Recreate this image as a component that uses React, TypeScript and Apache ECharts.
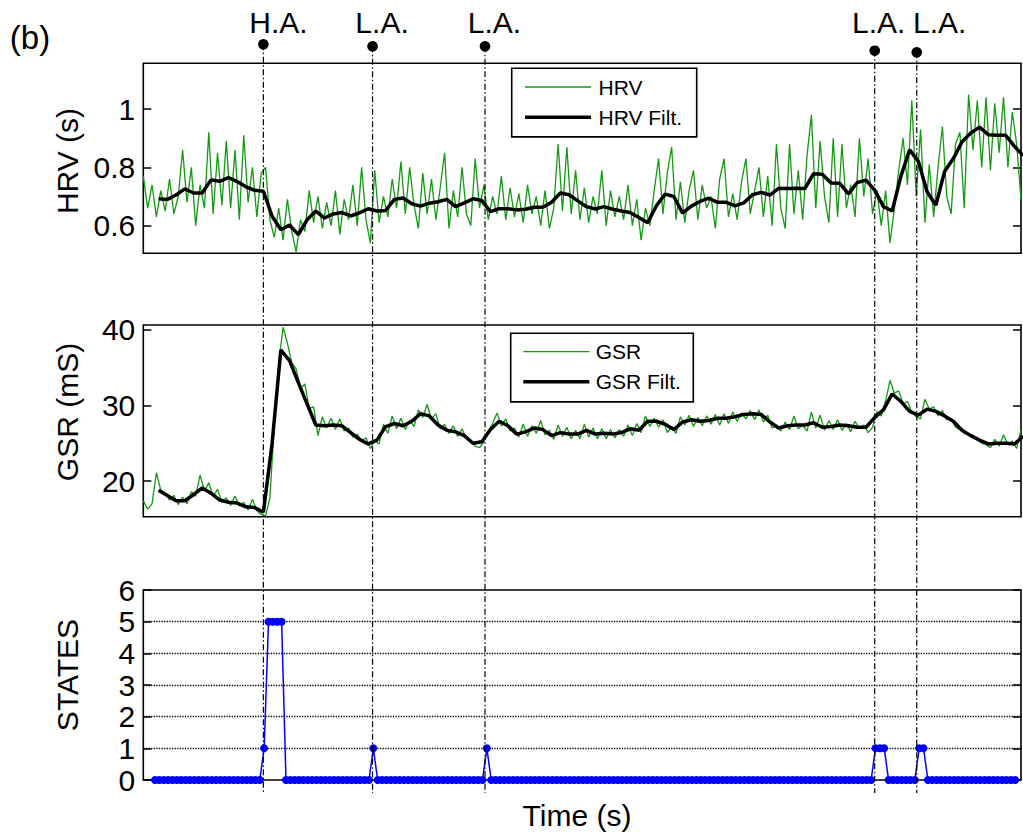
import { useEffect, useRef } from "react";
import * as echarts from "echarts";

// ---------------- data ----------------
const TIME_MAX = 804; // seconds shown on the shared time axis
const RAW_T0 = 0;
const RAW_DT = 4;
const FILT_T0 = 14;
const FILT_DT = 8;
const STATE_T0 = 10.7;
const STATE_DT = 4;

const hrvRaw = [
  0.77, 0.66, 0.74, 0.63, 0.72, 0.65, 0.76, 0.64, 0.70, 0.86,
  0.68, 0.80, 0.60, 0.74, 0.66, 0.92, 0.64, 0.85, 0.67, 0.89,
  0.66, 0.86, 0.62, 0.91, 0.68, 0.80, 0.63, 0.78, 0.80, 0.62,
  0.56, 0.66, 0.55, 0.69, 0.58, 0.51, 0.62, 0.58, 0.72, 0.61,
  0.70, 0.59, 0.68, 0.60, 0.72, 0.57, 0.69, 0.62, 0.74, 0.60,
  0.80, 0.62, 0.54, 0.79, 0.61, 0.70, 0.63, 0.76, 0.66, 0.82,
  0.64, 0.80, 0.67, 0.59, 0.78, 0.64, 0.76, 0.62, 0.73, 0.85,
  0.59, 0.72, 0.63, 0.80, 0.64, 0.60, 0.83, 0.66, 0.74, 0.62,
  0.70, 0.64, 0.77, 0.62, 0.73, 0.63, 0.71, 0.61, 0.74, 0.64,
  0.70, 0.60, 0.72, 0.59, 0.66, 0.88, 0.65, 0.87, 0.64, 0.79,
  0.62, 0.73, 0.61, 0.70, 0.64, 0.79, 0.60, 0.72, 0.63, 0.70,
  0.62, 0.74, 0.60, 0.69, 0.55, 0.66, 0.60, 0.72, 0.83, 0.64,
  0.78, 0.87, 0.62, 0.75, 0.61, 0.72, 0.79, 0.62, 0.74, 0.66,
  0.70, 0.59, 0.76, 0.83, 0.63, 0.71, 0.62, 0.75, 0.83, 0.64,
  0.72, 0.80, 0.63, 0.77, 0.60, 0.88, 0.66, 0.59, 0.88, 0.64,
  0.79, 0.62, 0.84, 0.98, 0.66, 0.89, 0.70, 0.61, 0.90, 0.63,
  0.88, 0.66, 0.74, 0.63, 0.90, 0.70, 0.83, 0.64, 0.72, 0.60,
  0.72, 0.54, 0.66, 0.79, 0.90, 0.74, 1.03, 0.70, 0.93, 0.61,
  0.81, 0.63, 0.80, 0.94, 0.70, 0.64, 0.88, 0.92, 0.66, 1.05,
  0.86, 1.03, 0.80, 1.04, 0.79, 1.02, 0.85, 1.04, 0.80, 0.99,
  0.88, 0.69,
];

const hrvFilt = [
  0.692, 0.690, 0.705, 0.726, 0.712, 0.712, 0.757, 0.752, 0.765, 0.751,
  0.733, 0.721, 0.718, 0.632, 0.586, 0.602, 0.569, 0.620, 0.650, 0.626,
  0.640, 0.645, 0.633, 0.644, 0.658, 0.650, 0.652, 0.690, 0.695, 0.675,
  0.667, 0.677, 0.682, 0.690, 0.665, 0.678, 0.692, 0.686, 0.648, 0.658,
  0.658, 0.654, 0.656, 0.663, 0.663, 0.680, 0.712, 0.706, 0.685, 0.665,
  0.657, 0.665, 0.656, 0.650, 0.645, 0.628, 0.610, 0.668, 0.708, 0.700,
  0.643, 0.667, 0.683, 0.694, 0.680, 0.680, 0.668, 0.678, 0.706, 0.714,
  0.705, 0.728, 0.727, 0.728, 0.727, 0.778, 0.776, 0.746, 0.745, 0.709,
  0.748, 0.756, 0.722, 0.665, 0.650, 0.770, 0.860, 0.820, 0.716, 0.670,
  0.786, 0.830, 0.888, 0.918, 0.938, 0.912, 0.910, 0.910, 0.872, 0.840,
];

const gsrRaw = [
  17.4, 16.3, 17.0, 21.1, 18.8, 18.4, 17.5, 18.1, 16.9, 17.9,
  17.0, 18.6, 18.0, 20.8, 18.7, 19.8, 18.0, 18.9, 17.2, 17.8,
  16.8, 18.0, 16.7, 17.2, 16.2, 17.6, 16.1, 15.6, 15.4, 17.8,
  27.5, 35.5, 40.3, 38.2, 35.6, 34.8, 32.3, 32.8, 29.6, 29.8,
  26.0, 28.5, 27.0, 28.3, 26.8, 28.2, 26.6, 27.0, 25.8, 26.2,
  25.3, 25.7, 24.3, 25.3, 24.9, 27.5, 26.3, 28.6, 26.9, 28.3,
  26.8, 28.0, 27.2, 29.4, 28.4, 30.1, 28.2, 28.9, 26.9, 27.5,
  26.3, 27.3, 25.9, 26.9, 25.6, 25.4, 24.6, 24.4, 25.2, 26.6,
  27.6, 29.0, 27.3, 28.2, 26.6, 27.0, 25.8, 27.5, 25.9, 27.3,
  26.3, 28.0, 26.1, 26.7, 25.5, 27.4, 25.9, 27.1, 25.6, 26.7,
  25.6, 27.5, 25.8, 27.0, 25.6, 26.9, 25.6, 26.8, 25.7, 26.8,
  25.9, 27.4, 26.0, 27.6, 26.4, 28.6, 27.2, 28.3, 27.1, 28.1,
  26.4, 27.2, 26.3, 28.5, 27.4, 28.7, 27.2, 28.4, 27.3, 28.6,
  27.5, 28.8, 27.4, 28.9, 27.6, 29.1, 27.9, 29.0, 28.2, 29.3,
  28.1, 29.4, 27.8, 28.7, 27.0, 27.3, 26.6, 27.8, 26.8, 28.6,
  26.9, 27.4, 26.6, 29.1, 27.0, 28.7, 26.7, 28.0, 26.8, 28.1,
  26.7, 27.6, 26.5, 27.9, 26.9, 27.4, 26.4, 27.1, 29.2, 28.6,
  30.6, 33.3, 31.6, 31.9, 30.2, 30.5, 29.1, 28.5, 28.2, 30.8,
  29.5, 29.8, 28.6, 29.3, 28.1, 28.2, 27.1, 26.8, 26.3, 26.1,
  25.7, 25.5, 25.0, 24.8, 24.4, 25.5, 24.6, 26.1, 24.8, 25.3,
  24.3, 26.8,
];

const gsrFilt = [
  18.8, 18.1, 17.4, 17.4, 18.2, 19.1, 18.4, 17.5, 17.2, 17.1,
  16.6, 16.5, 15.9, 25.0, 37.3, 35.9, 33.0, 30.2, 27.4, 27.3,
  27.4, 27.3, 26.4, 25.5, 24.9, 25.4, 27.2, 27.6, 27.3, 27.9,
  28.9, 28.6, 27.4, 26.7, 26.5, 26.0, 25.0, 25.2, 26.8, 27.9,
  27.3, 26.2, 26.5, 27.0, 26.8, 26.0, 26.4, 26.2, 26.2, 26.7,
  26.2, 26.3, 26.2, 26.4, 26.9, 26.7, 27.9, 27.9, 27.5, 26.8,
  27.8, 28.1, 27.9, 28.0, 28.3, 28.3, 28.5, 28.8, 28.9, 28.8,
  27.8, 27.0, 27.3, 27.4, 27.4, 27.7, 27.1, 27.2, 27.4, 27.3,
  27.1, 27.1, 28.4, 29.4, 31.5, 30.5, 29.2, 28.7, 29.5, 29.2,
  28.6, 27.9, 26.7, 26.0, 25.4, 24.9, 25.0, 25.0, 24.9, 25.9,
];

const states = [
  0, 0, 0, 0, 0, 0, 0, 0, 0, 0, 0, 0, 0, 0, 0, 0, 0, 0, 0, 0,
  0, 0, 0, 0, 0, 1, 5, 5, 5, 5, 0, 0, 0, 0, 0, 0, 0, 0, 0, 0,
  0, 0, 0, 0, 0, 0, 0, 0, 0, 0, 1, 0, 0, 0, 0, 0, 0, 0, 0, 0,
  0, 0, 0, 0, 0, 0, 0, 0, 0, 0, 0, 0, 0, 0, 0, 0, 1, 0, 0, 0,
  0, 0, 0, 0, 0, 0, 0, 0, 0, 0, 0, 0, 0, 0, 0, 0, 0, 0, 0, 0,
  0, 0, 0, 0, 0, 0, 0, 0, 0, 0, 0, 0, 0, 0, 0, 0, 0, 0, 0, 0,
  0, 0, 0, 0, 0, 0, 0, 0, 0, 0, 0, 0, 0, 0, 0, 0, 0, 0, 0, 0,
  0, 0, 0, 0, 0, 0, 0, 0, 0, 0, 0, 0, 0, 0, 0, 0, 0, 0, 0, 0,
  0, 0, 0, 0, 0, 1, 1, 1, 0, 0, 0, 0, 0, 0, 0, 1, 1, 0, 0, 0,
  0, 0, 0, 0, 0, 0, 0, 0, 0, 0, 0, 0, 0, 0, 0, 0, 0, 0,
];

const eventTimes = [110, 210, 313, 670, 708.5];
const eventLabels = ["H.A.", "L.A.", "L.A.", "L.A.", "L.A."];

const hrvTicks = [0.6, 0.8, 1];
const gsrTicks = [20, 30, 40];
const HRV_RANGE = [0.505, 1.157];
const GSR_RANGE = [15.3, 40.6];
const STATE_RANGE = [0, 6];

// ---------------- layout / style ----------------
const FONT = "'Liberation Sans', Arial, Helvetica, sans-serif";
const GREEN = "#129a12";
const BLUE = "#0000ff";
const GRID_LEFT = 143.3;
const GRID_WIDTH = 877.7;
const GRID_BOXES = [
  { top: 63.3, height: 190 },
  { top: 325, height: 191.7 },
  { top: 590, height: 190 },
];
const MARK_Y = [44.3, 46.3, 46.3, 50.7, 52.3];
const LABEL_DX = [15, 9.5, 9.5, 4, 23];
const EVENT_LINE_BOTTOM = 793;

export default function App() {
  const ref = useRef<HTMLDivElement>(null);

  useEffect(() => {
    if (!ref.current) return;
    const chart = echarts.init(ref.current, null, { renderer: "svg" });

    const pairs = (arr: number[], t0: number, dt: number) =>
      arr.map((v, i) => [t0 + i * dt, v]);

    const xAxis = (gridIndex: number) => ({
      type: "value",
      gridIndex,
      min: 0,
      max: TIME_MAX,
      axisLine: { show: false },
      axisTick: { show: false },
      axisLabel: { show: false },
      splitLine: { show: false },
    });

    const tickStyle = { color: "#000", width: 1.5 };
    const labelStyle = { fontSize: 30, color: "#000", fontFamily: FONT, margin: 8 };

    const yLeft = (gridIndex: number, range: number[], ticks: number[] | null) => ({
      type: "value",
      gridIndex,
      position: "left",
      min: range[0],
      max: range[1],
      ...(ticks ? {} : { interval: 1 }),
      axisLine: { show: false },
      axisTick: {
        show: true,
        inside: true,
        length: 8,
        lineStyle: tickStyle,
        ...(ticks ? { customValues: ticks } : {}),
      },
      axisLabel: { show: true, ...labelStyle, ...(ticks ? { customValues: ticks } : {}) },
      splitLine: ticks
        ? { show: false }
        : {
            show: true,
            showMinLine: false,
            showMaxLine: false,
            lineStyle: { type: "dotted", color: "#000", width: 1.3 },
          },
    });

    const yRight = (gridIndex: number, range: number[], ticks: number[] | null) => ({
      type: "value",
      gridIndex,
      position: "right",
      min: range[0],
      max: range[1],
      ...(ticks ? {} : { interval: 1 }),
      axisLine: { show: false },
      axisTick: {
        show: true,
        inside: true,
        length: 8,
        lineStyle: tickStyle,
        ...(ticks ? { customValues: ticks } : {}),
      },
      axisLabel: { show: false },
      splitLine: { show: false },
    });

    chart.setOption({
      animation: false,
      backgroundColor: "#ffffff",
      textStyle: { fontFamily: FONT },
      grid: GRID_BOXES.map((g) => ({
        left: GRID_LEFT,
        width: GRID_WIDTH,
        top: g.top,
        height: g.height,
        show: true,
        borderColor: "#000",
        borderWidth: 1.6,
        backgroundColor: "transparent",
      })),
      xAxis: [xAxis(0), xAxis(1), xAxis(2)],
      yAxis: [
        yLeft(0, HRV_RANGE, hrvTicks),
        yRight(0, HRV_RANGE, hrvTicks),
        yLeft(1, GSR_RANGE, gsrTicks),
        yRight(1, GSR_RANGE, gsrTicks),
        yLeft(2, STATE_RANGE, null),
        yRight(2, STATE_RANGE, null),
      ],
      series: [
        {
          name: "HRV",
          type: "line",
          xAxisIndex: 0,
          yAxisIndex: 0,
          data: pairs(hrvRaw, RAW_T0, RAW_DT),
          showSymbol: false,
          lineStyle: { color: GREEN, width: 1.3 },
          z: 2,
        },
        {
          name: "HRV Filt.",
          type: "line",
          xAxisIndex: 0,
          yAxisIndex: 0,
          data: pairs(hrvFilt, FILT_T0, FILT_DT),
          showSymbol: false,
          lineStyle: { color: "#000", width: 3.5 },
          z: 3,
        },
        {
          name: "GSR",
          type: "line",
          xAxisIndex: 1,
          yAxisIndex: 2,
          data: pairs(gsrRaw, RAW_T0, RAW_DT),
          showSymbol: false,
          lineStyle: { color: GREEN, width: 1.3 },
          z: 2,
        },
        {
          name: "GSR Filt.",
          type: "line",
          xAxisIndex: 1,
          yAxisIndex: 2,
          data: pairs(gsrFilt, FILT_T0, FILT_DT),
          showSymbol: false,
          lineStyle: { color: "#000", width: 3.5 },
          z: 3,
        },
        {
          name: "STATES",
          type: "line",
          xAxisIndex: 2,
          yAxisIndex: 4,
          data: pairs(states, STATE_T0, STATE_DT),
          symbol: "circle",
          symbolSize: 8,
          showSymbol: true,
          showAllSymbol: true,
          clip: false,
          itemStyle: { color: BLUE },
          lineStyle: { color: BLUE, width: 1.5 },
          z: 4,
        },
      ],
    });

    const xs = eventTimes.map(
      (t) => chart.convertToPixel({ xAxisIndex: 0 }, t) as number
    );

    const txt = (
      text: string,
      x: number,
      y: number,
      size: number,
      align: string,
      rotation = 0
    ) => ({
      type: "text",
      x,
      y,
      rotation,
      z: 60,
      style: {
        text,
        fill: "#000",
        fontSize: size,
        fontFamily: FONT,
        align,
        textAlign: align,
        verticalAlign: "middle",
        textVerticalAlign: "middle",
      },
    });

    const legend = (
      box: { x: number; y: number; w: number; h: number },
      lx1: number,
      lx2: number,
      y1: number,
      y2: number,
      tx: number,
      names: string[]
    ) => [
      {
        type: "rect",
        z: 50,
        shape: { x: box.x, y: box.y, width: box.w, height: box.h },
        style: { fill: "#fff", stroke: "#000", lineWidth: 1.6 },
      },
      {
        type: "line",
        z: 51,
        shape: { x1: lx1, y1: y1, x2: lx2, y2: y1 },
        style: { stroke: GREEN, lineWidth: 1.3 },
      },
      {
        type: "line",
        z: 51,
        shape: { x1: lx1, y1: y2, x2: lx2, y2: y2 },
        style: { stroke: "#000", lineWidth: 3.5 },
      },
      txt(names[0], tx, y1, 21, "left"),
      txt(names[1], tx, y2, 21, "left"),
    ];

    const graphics: any[] = [];
    xs.forEach((x, i) => {
      graphics.push({
        type: "line",
        z: 70,
        shape: { x1: x, y1: MARK_Y[i], x2: x, y2: EVENT_LINE_BOTTOM },
        style: { stroke: "#000", lineWidth: 1.2, lineDash: [6, 2.5, 1.5, 2.5] },
      });
      graphics.push({
        type: "circle",
        z: 71,
        shape: { cx: x, cy: MARK_Y[i], r: 5.3 },
        style: { fill: "#000" },
      });
      graphics.push(txt(eventLabels[i], x + LABEL_DX[i], 22, 30, "center"));
    });

    graphics.push(
      ...legend({ x: 511.7, y: 68.3, w: 185, h: 68.6 }, 525, 591, 87, 117.3, 598.5, [
        "HRV",
        "HRV Filt.",
      ])
    );
    graphics.push(
      ...legend({ x: 510.7, y: 333.3, w: 182.6, h: 68.6 }, 523.3, 589.3, 351.7, 381.7, 595.7, [
        "GSR",
        "GSR Filt.",
      ])
    );

    graphics.push(txt("(b)", 30, 37, 33, "center"));
    graphics.push(txt("HRV (s)", 67, 161, 30, "center", Math.PI / 2));
    graphics.push(txt("GSR (mS)", 67, 412, 30, "center", Math.PI / 2));
    graphics.push(txt("STATES", 67, 675, 30, "center", Math.PI / 2));
    graphics.push(txt("Time (s)", 577, 815, 30, "center"));

    chart.setOption({ graphic: graphics });

    return () => chart.dispose();
  }, []);

  return (
    <div
      ref={ref}
      style={{
        position: "fixed",
        left: 0,
        top: 0,
        width: 1023,
        height: 832,
        background: "#fff",
      }}
    />
  );
}
